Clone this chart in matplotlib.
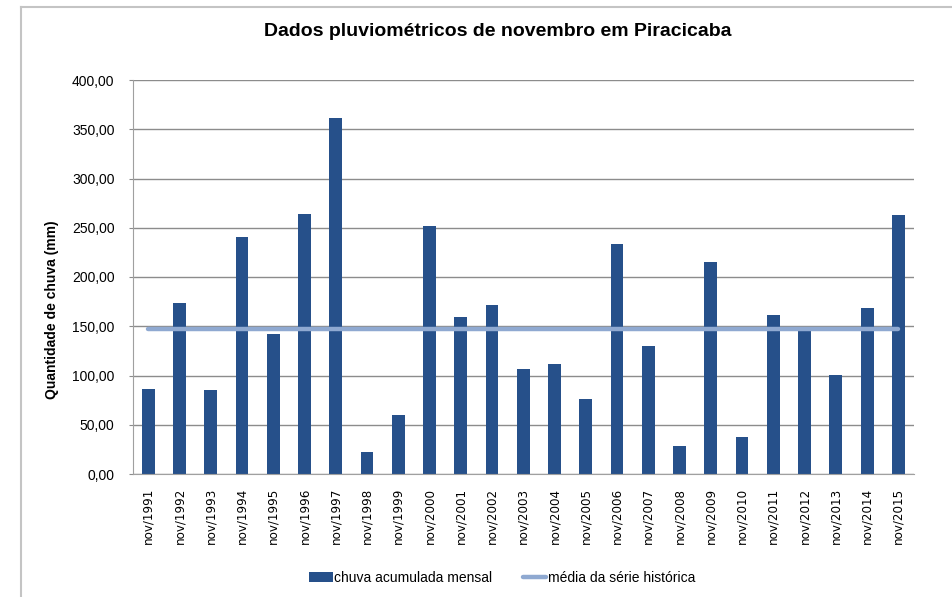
import matplotlib
matplotlib.use("Agg")
import matplotlib.pyplot as plt
from matplotlib.lines import Line2D
from matplotlib.patches import Patch
from matplotlib.ticker import FuncFormatter
import numpy as np

# monthly rainfall for november, Piracicaba (mm)
anos = ["nov/%d" % a for a in range(1991, 2016)]
chuva = [86.5, 173.8, 85.5, 240.7, 142.3, 264.0, 361.4, 22.6, 60.2, 251.9,
         159.6, 171.8, 106.8, 111.9, 76.4, 233.7, 130.2, 28.7, 215.4, 37.8,
         161.6, 146.0, 100.7, 168.8, 263.0]
media_historica = 147.4
yticks = [0, 50, 100, 150, 200, 250, 300, 350, 400]

cor_barra = "#26508A"
cor_linha = "#8FA9D1"
cor_grade = "#8C8C8C"

fig = plt.figure(figsize=(9.52, 5.97), dpi=100)
W, H = 952, 597
ax = fig.add_axes([132.5 / W, 1 - 474 / H, (914 - 132.5) / W, (474 - 80) / H])

x = np.arange(len(anos))
ax.bar(x, chuva, width=0.41, color=cor_barra, zorder=2)
ax.plot([x[0], x[-1]], [media_historica, media_historica], color=cor_linha,
        lw=3.2, solid_capstyle="round", zorder=3)

ax.set_xlim(-0.5, len(anos) - 0.5)
ax.set_ylim(0, 400)
ax.set_yticks(yticks)
ax.yaxis.set_major_formatter(FuncFormatter(lambda v, p: ("%.2f" % v).replace(".", ",")))
ax.set_xticks(x)
ax.set_xticklabels(anos, rotation=90, family="DejaVu Sans", fontsize=8.6)
for lab in ax.get_yticklabels():
    lab.set_family("Liberation Sans")
    lab.set_fontsize(10)

ax.grid(axis="y", color=cor_grade, lw=1, zorder=0)
ax.tick_params(axis="x", length=0, pad=10)
ax.tick_params(axis="y", length=3, color=cor_grade, pad=10)
for s in ["top", "right"]:
    ax.spines[s].set_visible(False)
ax.spines["left"].set_color("#A0A0A0")
ax.spines["bottom"].set_color("#A0A0A0")

fig.text(498 / W, 1 - 31 / H, "Dados pluviométricos de novembro em Piracicaba",
         ha="center", va="center", family="Liberation Sans", fontweight="bold",
         fontsize=14)
fig.text(52 / W, 1 - 310 / H, "Quantidade de chuva (mm)", rotation=90,
         ha="center", va="center", family="Liberation Sans", fontweight="bold",
         fontsize=10)

handles = [Patch(facecolor=cor_barra, edgecolor="none"),
           Line2D([0], [0], color=cor_linha, lw=3.2, solid_capstyle="round")]
fig.legend(handles, ["chuva acumulada mensal", "média da série histórica"],
           loc="center", bbox_to_anchor=(502 / W, 1 - 578 / H), ncol=2,
           frameon=False, prop={"family": "Liberation Sans", "size": 10},
           handlelength=1.7, handletextpad=0.1, columnspacing=2.2)

# chart border (top and left only visible)
fig.add_artist(Line2D([21 / W, 21 / W], [0, 1 - 7 / H], color="#C4C4C4", lw=1.5))
fig.add_artist(Line2D([21 / W, 1], [1 - 7 / H, 1 - 7 / H], color="#C4C4C4", lw=1.5))

fig.savefig("out.png", dpi=100)
